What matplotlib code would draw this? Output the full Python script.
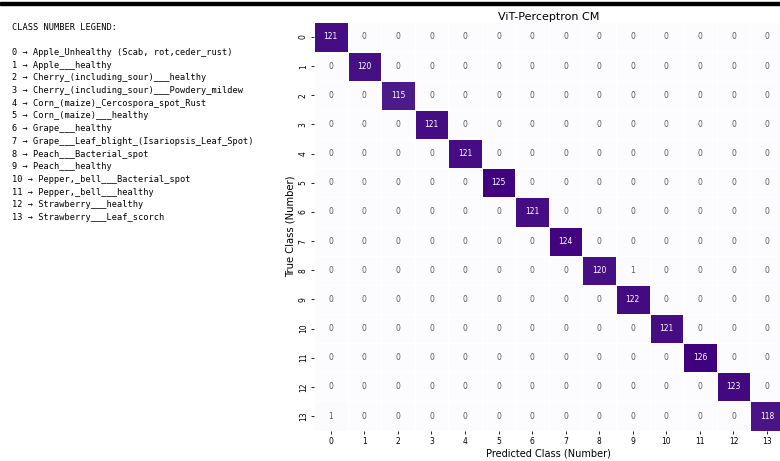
import numpy as np
import pandas as pd
import matplotlib
matplotlib.use('Agg')
import matplotlib.pyplot as plt
import seaborn as sns

class_names = [
    'Apple_Unhealthy (Scab, rot,ceder_rust)',
    'Apple___healthy',
    'Cherry_(including_sour)___healthy',
    'Cherry_(including_sour)___Powdery_mildew',
    'Corn_(maize)_Cercospora_spot_Rust',
    'Corn_(maize)___healthy',
    'Grape___healthy',
    'Grape___Leaf_blight_(Isariopsis_Leaf_Spot)',
    'Peach___Bacterial_spot',
    'Peach___healthy',
    'Pepper,_bell___Bacterial_spot',
    'Pepper,_bell___healthy',
    'Strawberry___healthy',
    'Strawberry___Leaf_scorch',
]

diag_counts = [121, 120, 115, 121, 121, 125, 121, 124, 120, 122, 121, 126, 123, 118]
off_diag_rows = [8, 13]
off_diag_cols = [9, 0]
off_diag_vals = [1, 1]

n = len(class_names)
cm = np.zeros((n, n), dtype=int)
cm[np.arange(n), np.arange(n)] = diag_counts
cm[off_diag_rows, off_diag_cols] = off_diag_vals

fig = plt.figure(figsize=(7.8, 4.61), dpi=100)

# legend text on the left
legend_lines = ['CLASS NUMBER LEGEND:', ''] + [f'{i} \u2192 {name}' for i, name in enumerate(class_names)]
fig.text(12 / 780, 1 - 22.5 / 461, '\n'.join(legend_lines), family='DejaVu Sans Mono',
         fontsize=6.2, va='top', ha='left', linespacing=1.53)

# heatmap on the right (slightly clipped by the figure edge)
ax = fig.add_axes([314 / 780, 1 - 430.6 / 461, 469.8 / 780, 408.2 / 461])
sns.heatmap(cm, annot=True, fmt='d', cmap='Purples', cbar=False, linewidths=0.6,
            linecolor='white', annot_kws={'fontsize': 5.5}, ax=ax)
# soften the dark annotation text on the pale cells
for t in ax.texts:
    if int(t.get_text()) < 60:
        t.set_color('0.35')
ax.set_title('ViT-Perceptron CM', fontsize=8, pad=2)
ax.set_xlabel('Predicted Class (Number)', fontsize=7, labelpad=2)
ax.set_ylabel('True Class (Number)', fontsize=7.2, labelpad=2)
ax.tick_params(axis='both', labelsize=5.5, length=2.5, width=0.6, pad=2)
plt.setp(ax.get_yticklabels(), rotation=90, va='center')
plt.setp(ax.get_xticklabels(), rotation=0)

# black bar along the top edge
fig.add_artist(plt.Rectangle((0, 1 - 5 / 461), 1, 3 / 461, transform=fig.transFigure,
                             color='black', clip_on=False))

fig.savefig('out.png', dpi=100)
